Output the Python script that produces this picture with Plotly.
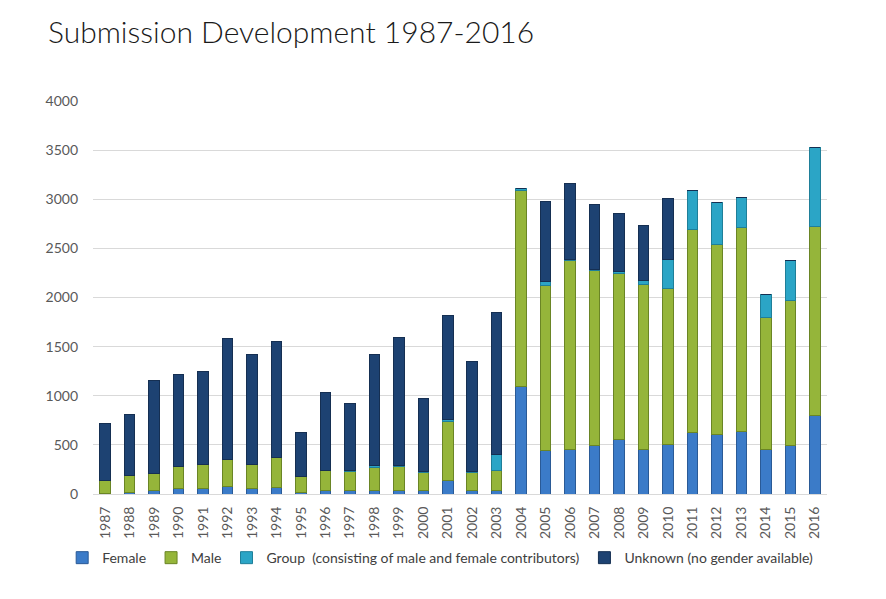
import plotly.graph_objects as go

years = [str(y) for y in range(1987, 2017)]

female = [10, 20, 40, 58, 58, 75, 55, 68, 17, 34, 34, 40, 40, 40, 142, 40, 40,
          1099, 438, 458, 492, 550, 448, 499, 631, 607, 638, 458, 489, 794]
male = [132, 166, 170, 220, 244, 278, 244, 305, 166, 210, 193, 228, 238, 174, 594, 174, 204,
        1995, 1689, 1917, 1781, 1693, 1689, 1594, 2066, 1931, 2073, 1340, 1482, 1930]
group = [0, 0, 0, 0, 0, 0, 0, 0, 0, 0, 10, 27, 14, 13, 27, 13, 153,
         17, 31, 15, 14, 20, 31, 296, 390, 427, 305, 231, 407, 805]
unknown = [578, 625, 950, 943, 943, 1225, 1116, 1181, 445, 787, 682, 1120, 1306, 740, 1056, 1120, 1452,
           0, 821, 772, 658, 594, 567, 620, 0, 0, 0, 0, 0, 0]

series = [
    ("Female", female, "#3b7bc8", "#2a5a96"),
    ("Male", male, "#95b53a", "#6a8525"),
    ("Group  (consisting of male and female contributors)", group, "#2ba5c6", "#1f7f99"),
    ("Unknown (no gender available)", unknown, "#1d4272", "#152f52"),
]

fig = go.Figure()
for name, vals, col, line in series:
    fig.add_trace(go.Bar(
        x=years, y=vals, name=name,
        marker=dict(color=col, line=dict(color=line, width=1)),
    ))

font_family = "Lato, 'Open Sans', sans-serif"

fig.update_layout(
    barmode="stack",
    bargap=0.57,
    width=886, height=599,
    paper_bgcolor="white", plot_bgcolor="white",
    margin=dict(l=93, r=59, t=101, b=105, autoexpand=False),
    title=dict(text="Submission Development 1987-2016",
               x=48 / 886, xanchor="left", y=1 - 32 / 599, yanchor="middle",
               font=dict(family=font_family, size=30, color="#1a1a1a", weight=300)),
    font=dict(family=font_family, size=14, color="#595959"),
    showlegend=True,
    legend=dict(orientation="h", x=-0.042, xanchor="left",
                y=-0.163, yanchor="middle",
                font=dict(size=14, color="#404040"), itemwidth=30,
                traceorder="normal", bgcolor="rgba(0,0,0,0)"),
    xaxis=dict(type="category", range=[-0.5, 29.5], tickangle=-90,
               showgrid=False, showline=True, linecolor="#d9d9d9", linewidth=1,
               ticks="", ticklabelstandoff=6, tickfont=dict(size=14, color="#595959")),
    yaxis=dict(range=[0, 4000], dtick=500, showgrid=True, gridcolor="#d9d9d9",
               gridwidth=1, zeroline=False, showline=False, ticks="",
               ticklabelstandoff=14, tickfont=dict(size=14, color="#595959")),
)

fig.write_html("out.html", config={"displayModeBar": False},
               post_script="document.body.style.margin='0';document.body.style.padding='0';")
